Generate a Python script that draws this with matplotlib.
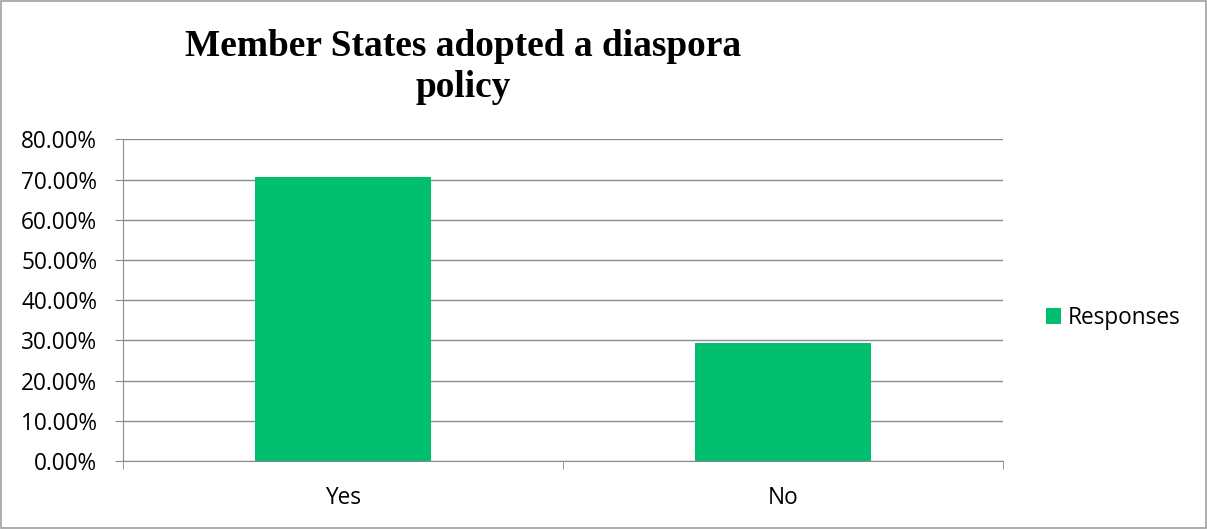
import matplotlib
matplotlib.use("Agg")
import matplotlib.pyplot as plt
from matplotlib.patches import Rectangle
from matplotlib.ticker import FuncFormatter, MultipleLocator

categories = ["Yes", "No"]
responses = [70.59, 29.41]
series_name = "Responses"
title_text = "Member States adopted a diaspora\npolicy"

W, H = 1207, 529
fig = plt.figure(figsize=(W / 100, H / 100), dpi=100)
ax = fig.add_axes([123 / W, 1 - 461 / H, 880 / W, (461 - 139.3) / H])

bar_color = "#00bf6f"
x = range(len(categories))
bars = ax.bar(x, responses, width=0.4, color=bar_color, label=series_name, zorder=3)

ax.set_xlim(-0.5, len(categories) - 0.5)
ax.set_ylim(0, 80)
ax.yaxis.set_major_locator(MultipleLocator(10))
ax.yaxis.set_major_formatter(FuncFormatter(lambda v, p: f"{v:.2f}%"))
ax.grid(axis="y", color="#8c8c8c", linewidth=1.0, zorder=0)
ax.set_axisbelow(True)

gray = "#8c8c8c"
for s in ["top", "right"]:
    ax.spines[s].set_visible(False)
ax.spines["left"].set_color(gray)
ax.spines["bottom"].set_color(gray)

ax.set_xticks(list(x))
ax.set_xticklabels(categories)
ax.tick_params(axis="x", which="major", length=0, pad=18)
ax.set_xticks([-0.5, 0.5, 1.5], minor=True)
ax.tick_params(axis="x", which="minor", length=6, color=gray, direction="out")
ax.tick_params(axis="y", length=6, color=gray, direction="out", pad=12.5)

font = "Open Sans"
fs = 16.3
for lbl in ax.get_xticklabels() + ax.get_yticklabels():
    lbl.set_fontfamily(font)
    lbl.set_fontsize(fs)
    lbl.set_color("#000000")

fig.text(463 / W, 1 - 67 / H, title_text, ha="center", va="center",
         fontfamily="Liberation Serif", fontweight="bold", fontsize=26.9,
         linespacing=1.2)

leg = fig.legend(handles=[bars], labels=[series_name], loc="center left",
                 bbox_to_anchor=(1046 / W, 1 - 318 / H), frameon=False,
                 prop={"family": font, "size": fs}, handlelength=0.66,
                 handleheight=0.66, handletextpad=0.3, borderaxespad=0,
                 borderpad=0)

fig.patches.append(Rectangle((1 / W, 1 / H), 1 - 2 / W, 1 - 2 / H,
                             transform=fig.transFigure, fill=False,
                             edgecolor="#a0a0a0", linewidth=1.2))

fig.savefig("out.png", dpi=100)
